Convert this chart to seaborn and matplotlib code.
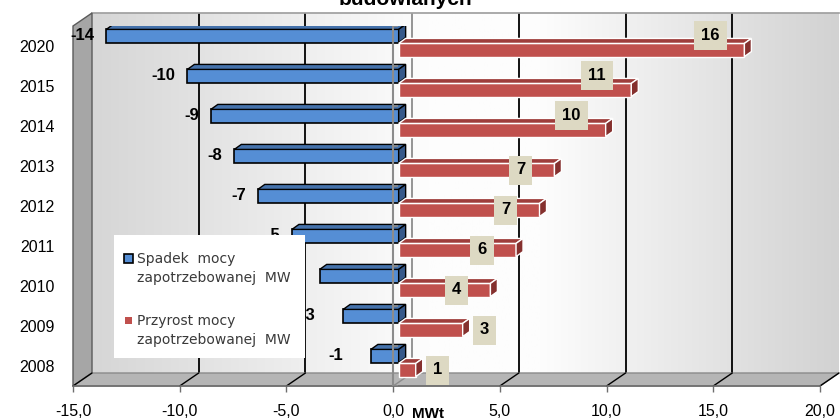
import numpy as np
import pandas as pd
import matplotlib
matplotlib.use("Agg")
import matplotlib.pyplot as plt
from matplotlib.colors import LinearSegmentedColormap
from matplotlib.lines import Line2D
from matplotlib.patches import Polygon, Rectangle
from matplotlib.transforms import IdentityTransform, ScaledTranslation
import seaborn as sns

# dane
lata = ["2020", "2015", "2014", "2013", "2012", "2011", "2010", "2009", "2008"]
spadek = [-13.7, -9.9, -8.8, -7.7, -6.6, -5.0, -3.7, -2.6, -1.3]
przyrost = [16.2, 10.9, 9.7, 7.3, 6.6, 5.5, 4.3, 3.0, 0.8]
serie = ["Spadek  mocy\nzapotrzebowanej  MW", "Przyrost mocy\nzapotrzebowanej  MW"]
x_ticks = [-15, -10, -5, 0, 5, 10, 15, 20]
x_ticklabels = ["-15,0", "-10,0", "-5,0", "0,0", "5,0", "10,0", "15,0", "20,0"]
tytul = "budowlanych"
jednostka = "MWt"

W, H = 840, 420
NIEBIESKI = "#558ed5"
CZERWONY = "#c0504d"
DX, DY = 7, 5          # glebokosc slupkow 3D w pikselach
PIX = IdentityTransform()


def fx(px):
    return px / W


def fy(py):
    return 1 - py / H


def pix(px, py):
    return (px, H - py)


sns.set_theme(style="white")
plt.rcParams["font.family"] = ["Liberation Sans", "DejaVu Sans"]
plt.rcParams["text.color"] = "black"

fig = plt.figure(figsize=(8.4, 4.2), dpi=100)

# tylna sciana z gradientem
ax_back = fig.add_axes([fx(92), fy(373), (839 - 92) / W, 360 / H], zorder=0)
cmap = LinearSegmentedColormap.from_list(
    "sciana", [(0, "#d6d6d6"), (0.45, "#fdfdfd"), (0.6, "#fdfdfd"), (1, "#d2d2d2")])
ax_back.imshow(np.linspace(0, 1, 256).reshape(1, -1), extent=[-15, 20, 0, 1],
               aspect="auto", cmap=cmap, interpolation="bilinear")
ax_back.set_xlim(-15, 20)
ax_back.set_ylim(0, 1)
for t in x_ticks[1:-1]:
    ax_back.axvline(t, color="#8c8c8c" if t == 0 else "black", lw=1.3)
ax_back.set_xticks([])
ax_back.set_yticks([])
for s in ["left", "bottom", "right"]:
    ax_back.spines[s].set_visible(False)
ax_back.spines["top"].set_color("#a0a0a0")

# przednia plaszczyzna z osiami
ax = fig.add_axes([fx(73), fy(386), (820 - 73) / W, 360 / H], zorder=1)
ax.patch.set_alpha(0)

df = pd.DataFrame({
    "rok": lata * 2,
    "moc": spadek + przyrost,
    "seria": [serie[0]] * len(lata) + [serie[1]] * len(lata),
})
sns.barplot(data=df, x="moc", y="rok", hue="seria", order=lata, hue_order=serie,
            orient="h", palette=[NIEBIESKI, CZERWONY], width=0.7, gap=0.06,
            saturation=1, errorbar=None, legend=False, ax=ax)
ax.set_xlim(-15, 20)
ax.set_ylim(len(lata) - 0.5, -0.5)

# lewa sciana i podloga
fig.add_artist(Polygon([pix(73, 386), pix(73, 26), pix(92, 13), pix(92, 373)],
                       transform=PIX, fc="#a6a6a6", ec="#5a5a5a", lw=1, zorder=0.5))
fig.add_artist(Polygon([pix(73, 386), pix(92, 373), pix(839, 373), pix(820, 386)],
                       transform=PIX, fc="#b5b5b5", ec="#8a8a8a", lw=1, zorder=0.5))
for t in x_ticks:
    xf = ax.transData.transform((t, 0))[0]
    xb = ax_back.transData.transform((t, 0))[0]
    fig.add_artist(Line2D([xf, xb], [H - 386, H - 373], transform=PIX,
                          color="#8c8c8c" if t == 0 else "black", lw=1, zorder=0.6))

# slupki przesuniete w glab + sciany 3D
tr = ax.transData + ScaledTranslation(0.055, 0.03, fig.dpi_scale_trans)
bars = list(ax.patches)
faces = []
for p in bars:
    v = p.get_width()
    blue = v < 0
    p.set_transform(tr)
    p.set_edgecolor("black" if blue else "white")
    p.set_linewidth(1.2 if blue else 1.0)
    (x1, y1), (x2, y2) = tr.transform(
        [(p.get_x(), p.get_y()), (p.get_x() + v, p.get_y() + p.get_height())])
    xl, xr = min(x1, x2), max(x1, x2)
    yb, yt = min(y1, y2), max(y1, y2)
    top_c, side_c = ("#4572ab", "#36598a") if blue else ("#9e3d3b", "#85302e")
    ec = "black" if blue else "white"
    faces.append(Polygon([(xl, yt), (xr, yt), (xr + DX, yt + DY), (xl + DX, yt + DY)],
                         transform=PIX, fc=top_c, ec=ec, lw=1, zorder=1.5))
    faces.append(Polygon([(xr, yb), (xr, yt), (xr + DX, yt + DY), (xr + DX, yb + DY)],
                         transform=PIX, fc=side_c, ec=ec, lw=1, zorder=1.5))
    yc = (yb + yt) / 2
    if blue:
        gap = 12 if abs(v) >= 5 else 28
        ax.text(xl - gap, yc, f"{v:.0f}", transform=PIX, ha="right", va="center",
                fontsize=12, fontweight="bold", zorder=4)
    else:
        if v >= 3.5:
            xc = xr - 34
            yc = yc + (15 if v >= 9 else 0)
        else:
            xc = xr + 22
        ax.text(xc, yc, f"{v:.0f}", transform=PIX, ha="center", va="center",
                fontsize=12, fontweight="bold", zorder=4,
                bbox=dict(boxstyle="square,pad=0.42", fc="#ddd9c3", ec="none"))
for f in faces:
    ax.add_patch(f)

# os kategorii w zerze
ax.axvline(0, color="#8c8c8c", lw=1.5, zorder=3)
ax.hlines(np.arange(-0.5, len(lata)), 0, 0.25, color="#8c8c8c", lw=1.2, zorder=3)

ax.set_xlim(-15, 20)
ax.set_ylim(len(lata) - 0.5, -0.5)
ax.set_xticks(x_ticks, x_ticklabels)
ax.set_xlabel("")
ax.set_ylabel("")
for s in ["left", "top", "right"]:
    ax.spines[s].set_visible(False)
ax.spines["bottom"].set_color("#6e6e6e")
ax.spines["bottom"].set_linewidth(1.2)
ax.tick_params(axis="x", bottom=True, length=4, color="#6e6e6e", width=1,
               pad=9, labelsize=11.5, labelcolor="black")
ax.tick_params(axis="y", left=False, length=0, pad=13, labelsize=11.5, labelcolor="black")

# legenda
ax.add_patch(Rectangle(pix(114, 358), 191, 123, transform=PIX, fc="white", ec="none",
                       zorder=5, clip_on=False))
ax.add_patch(Rectangle(pix(124, 263), 9, 9, transform=PIX, fc=NIEBIESKI, ec="black",
                       lw=1.2, zorder=6, clip_on=False))
ax.add_patch(Rectangle(pix(125, 324), 7, 7, transform=PIX, fc=CZERWONY, ec="none",
                       zorder=6, clip_on=False))
for name, base in zip(serie, [263, 325]):
    for i, line in enumerate(name.split("\n")):
        ax.text(137, H - (base + i * 19), line, transform=PIX, ha="left", va="baseline",
                fontsize=10, family="DejaVu Sans", color="#3a3a3a", zorder=6)

fig.text(fx(405), fy(5), tytul, ha="center", va="baseline", fontsize=15, fontweight="bold")
fig.text(fx(412), fy(418), jednostka, ha="left", va="baseline", fontsize=11, fontweight="bold")

fig.savefig("out.png", dpi=100)
